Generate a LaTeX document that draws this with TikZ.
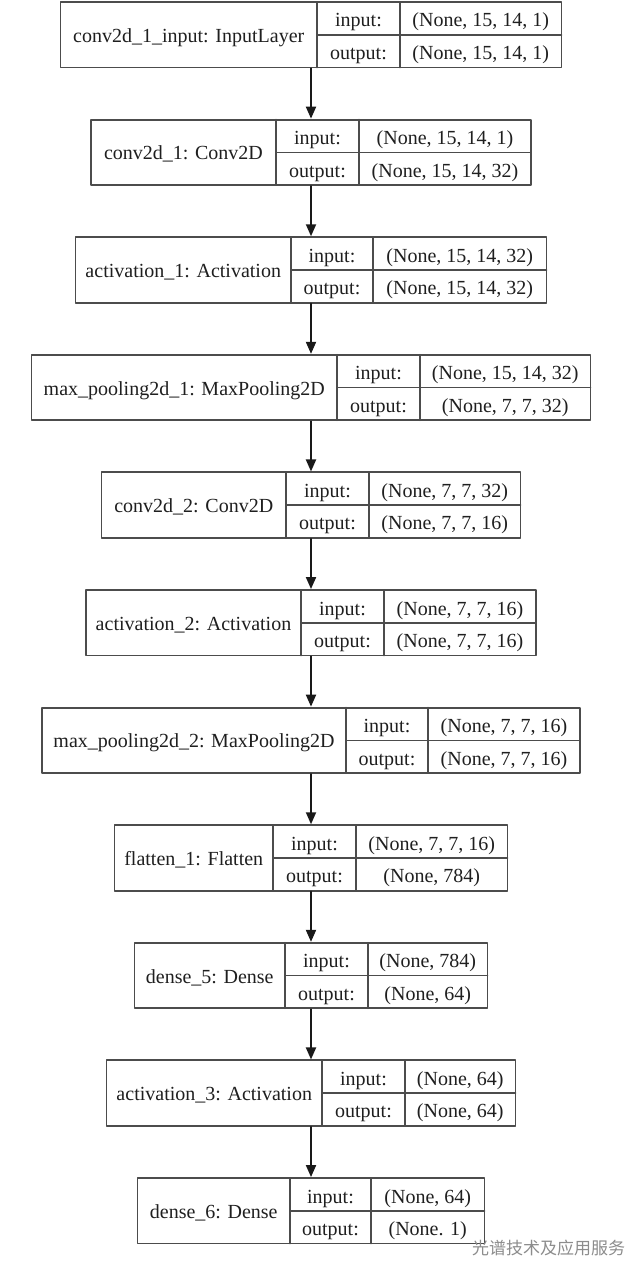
\documentclass[tikz,border=0pt]{standalone}
\usepackage{fontspec}
\setmainfont{Liberation Serif}
\newfontfamily\cjkfont{Noto Sans CJK SC}
\usetikzlibrary{arrows.meta}
\begin{document}
\begin{tikzpicture}[x=1pt,y=-1pt,line cap=round,line join=round,
  layerbox/.style={draw=black!70,line width=1.9pt,minimum height=65.5pt,inner sep=0pt},
  grid/.style={draw=black!70,line width=1.7pt},
  cell/.style={text=black!88,font=\fontsize{20}{24}\selectfont,inner sep=0pt,
    text height=13pt,text depth=0pt},
  flow/.style={draw=black!90,line width=1.9pt,-{Triangle[width=10pt,length=12pt]}}]
  \useasboundingbox (0,0) rectangle (643,1274);
  \fill[white] (0,0) rectangle (643,1274);
  % one record per layer: index/width/first divider/second divider/name/input/output
  \foreach \i/\w/\da/\db/\lname/\lin/\lout in {
    1/501/317/400/{conv2d\_1\_input: InputLayer}/{(None, 15, 14, 1)}/{(None, 15, 14, 1)},
    2/440/276/359/{conv2d\_1: Conv2D}/{(None, 15, 14, 1)}/{(None, 15, 14, 32)},
    3/471/291/373/{activation\_1: Activation}/{(None, 15, 14, 32)}/{(None, 15, 14, 32)},
    4/559/337/420/{max\_pooling2d\_1: MaxPooling2D}/{(None, 15, 14, 32)}/{(None, 7, 7, 32)},
    5/419/286/369/{conv2d\_2: Conv2D}/{(None, 7, 7, 32)}/{(None, 7, 7, 16)},
    6/450/301/384/{activation\_2: Activation}/{(None, 7, 7, 16)}/{(None, 7, 7, 16)},
    7/538/346/428/{max\_pooling2d\_2: MaxPooling2D}/{(None, 7, 7, 16)}/{(None, 7, 7, 16)},
    8/393/273/356/{flatten\_1: Flatten}/{(None, 7, 7, 16)}/{(None, 784)},
    9/353/285/368/{dense\_5: Dense}/{(None, 784)}/{(None, 64)},
    10/409/322/405/{activation\_3: Activation}/{(None, 64)}/{(None, 64)},
    11/347/290/371/{dense\_6: Dense}/{(None, 64)}/{(None. 1)}}
  {
    \pgfmathsetmacro\ytop{2+117.6*(\i-1)}
    \pgfmathsetmacro\ymid{\ytop+32.75}
    \pgfmathsetmacro\ybot{\ytop+65.5}
    \pgfmathsetmacro\xl{311-\w/2}
    \pgfmathsetmacro\xr{311+\w/2}
    \node[layerbox,minimum width=\w pt] (L\i) at (311,\ymid) {};
    \draw[grid] (\da,\ytop) -- (\da,\ybot) (\db,\ytop) -- (\db,\ybot) (\da,\ymid) -- (\xr,\ymid);
    \node[cell] (N\i) at ({(\xl+\da)/2},\ymid+1) {\lname};
    \node[cell] (I\i) at ({(\da+\db)/2},\ytop+18.5) {input:};
    \node[cell] (O\i) at ({(\da+\db)/2},\ytop+51) {output:};
    \node[cell] (P\i) at ({(\db+\xr)/2},\ytop+18.5) {\lin};
    \node[cell] (Q\i) at ({(\db+\xr)/2},\ytop+51) {\lout};
  }
  \foreach \i [evaluate=\i as \j using int(\i+1)] in {1,...,10}
    \draw[flow] (L\i.south) -- (L\j.north);
  \node[text=black!45,font=\cjkfont\fontsize{17}{17}\selectfont,anchor=west,inner sep=0pt] (wm) at (472,1248) {光谱技术及应用服务};
\end{tikzpicture}
\end{document}
